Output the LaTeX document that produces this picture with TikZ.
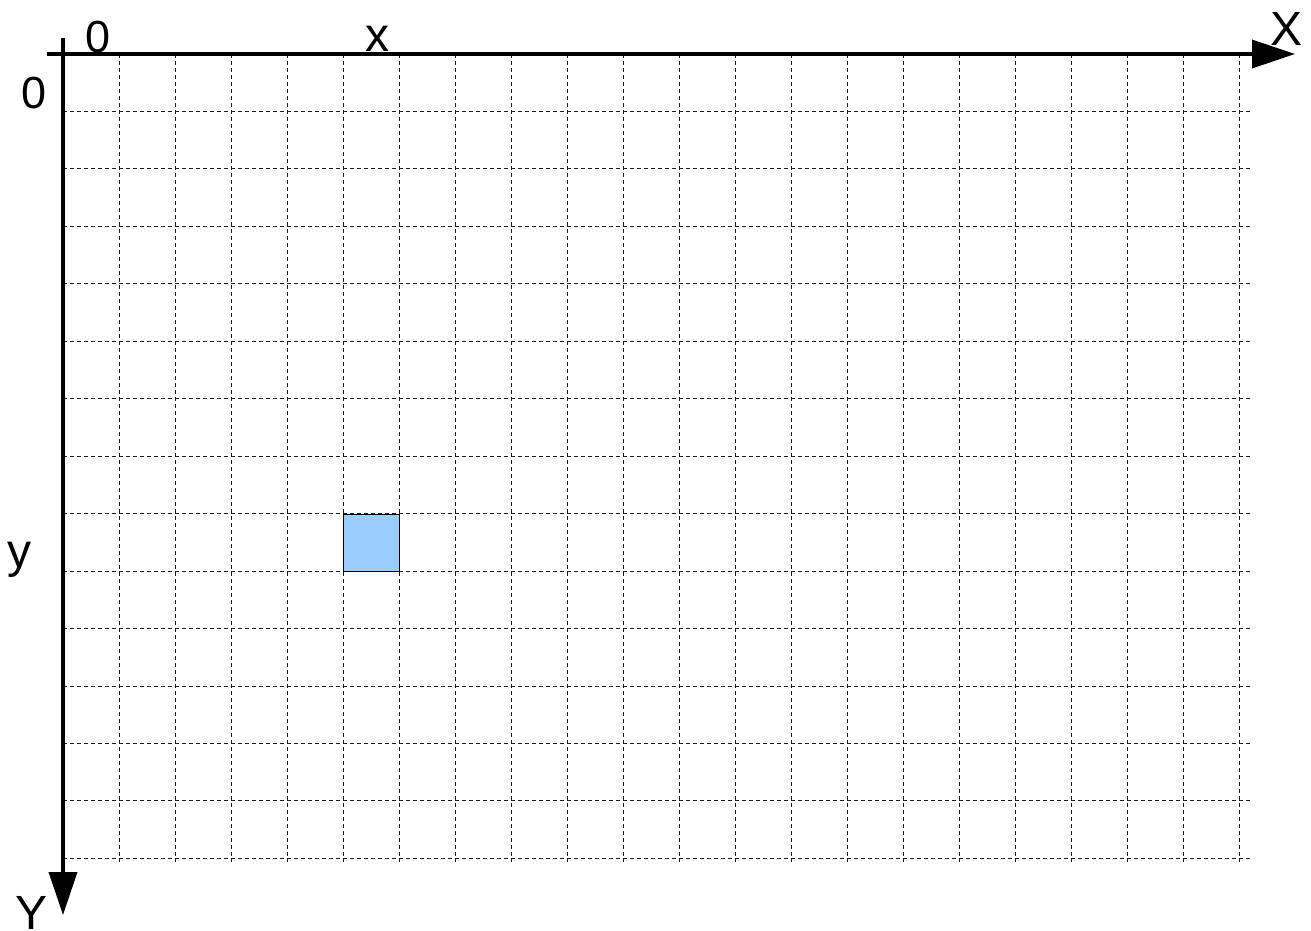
\documentclass[tikz,border=0pt]{standalone}
\usepackage{fontspec}
\setmainfont{Liberation Sans}
\usetikzlibrary{arrows.meta}
\definecolor{cellblue}{HTML}{99CCFF}
\begin{document}
\begin{tikzpicture}[x=1pt,y=-1pt,
  axis/.style={line width=3.6pt, -{Triangle[length=43pt,width=28pt]}},
  gridline/.style={line width=0.9pt, black!90, dash pattern=on 4pt off 3pt},
  lbl/.style={inner sep=0pt, anchor=base, font=\fontsize{48}{56}\selectfont},
  num/.style={inner sep=0pt, anchor=base, font=\fontsize{45}{54}\selectfont},
  cell/.style={draw=black, line width=1pt, fill=cellblue}]
\useasboundingbox (0,0) rectangle (1311,930);
% grid
\foreach \k in {1,...,21}{
  \draw[gridline] ({63.3+56*\k},54) -- ({63.3+56*\k},862);
}
\foreach \k in {1,...,14}{
  \draw[gridline] (63,{54+57.45*\k}) -- (1251,{54+57.45*\k});
}
% highlighted cell
\node[cell, minimum width=56pt, minimum height=57.45pt, inner sep=0pt, anchor=north west] (c) at (343.3,513.6) {};
% axes
\coordinate (xs) at (47,54);
\coordinate (xe) at (1295,54);
\coordinate (ys) at (63,38);
\coordinate (ye) at (63,915);
\draw[axis] (xs) -- (xe);
\draw[axis] (ys) -- (ye);
% labels
\node[num] (o1) at (98,52) {0};
\node[num] (o2) at (34,108) {0};
\node[lbl] (lx) at (377,51) {x};
\node[lbl] (lX) at (1286,45) {X};
\node[lbl] (ly) at (20,567) {y};
\node[lbl] (lY) at (31.5,929) {Y};
\end{tikzpicture}
\end{document}
